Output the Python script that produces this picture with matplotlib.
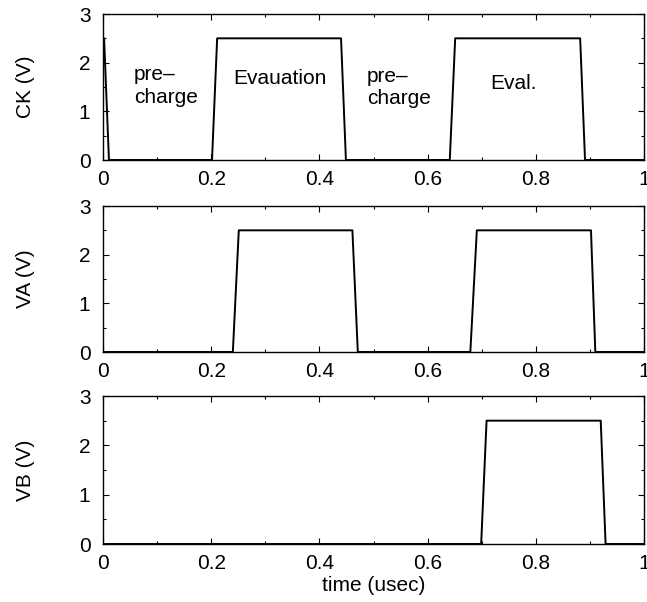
import matplotlib
matplotlib.use("Agg")
import matplotlib.pyplot as plt
from matplotlib.ticker import MultipleLocator

plt.rcParams['font.family'] = ['Liberation Sans', 'DejaVu Sans']

# Waveform breakpoints (time in usec, voltage in V)
ck_t = [0.0, 0.002, 0.011, 0.2015, 0.211, 0.44, 0.449, 0.641, 0.651, 0.882, 0.891, 1.0]
ck_v = [2.5, 2.5, 0.0, 0.0, 2.5, 2.5, 0.0, 0.0, 2.5, 2.5, 0.0, 0.0]

va_t = [0.0, 0.240, 0.251, 0.461, 0.471, 0.679, 0.691, 0.902, 0.910, 1.0]
va_v = [0.0, 0.0, 2.5, 2.5, 0.0, 0.0, 2.5, 2.5, 0.0, 0.0]

vb_t = [0.0, 0.699, 0.709, 0.920, 0.929, 1.0]
vb_v = [0.0, 0.0, 2.5, 2.5, 0.0, 0.0]

ylabels = ["CK (V)", "VA (V)", "VB (V)"]
xticks = [0, 0.2, 0.4, 0.6, 0.8, 1]
xticklabels = ["0", "0.2", "0.4", "0.6", "0.8", "1"]
yticks = [0, 1, 2, 3]

annotations = [
    (0.057, 1.52, "pre\u2013\ncharge"),
    (0.240, 1.68, "Evauation"),
    (0.488, 1.49, "pre\u2013\ncharge"),
    (0.716, 1.58, "Eval."),
]

W, H = 647, 602
fig = plt.figure(figsize=(W / 100, H / 100), dpi=100)

boxes = [(14, 160), (206, 352), (396, 544)]
left, right = 103, 644
series = [(ck_t, ck_v), (va_t, va_v), (vb_t, vb_v)]
FS = 15

for i, ((top, bot), (t, v)) in enumerate(zip(boxes, series)):
    ax = fig.add_axes([left / W, 1 - bot / H, (right - left) / W, (bot - top) / H])
    ax.plot(t, v, color='black', lw=1.4)
    ax.set_xlim(0, 1)
    ax.set_ylim(0, 3)
    ax.set_xticks(xticks)
    ax.set_xticklabels(xticklabels)
    ax.set_yticks(yticks)
    ax.xaxis.set_minor_locator(MultipleLocator(0.1))
    ax.yaxis.set_minor_locator(MultipleLocator(0.5))
    ax.tick_params(which='both', direction='in', top=True, right=True, labelsize=FS, width=0.8)
    ax.tick_params(which='major', length=4)
    ax.tick_params(which='minor', length=2.5)
    ax.tick_params(axis='x', pad=7)
    ax.tick_params(axis='y', pad=9)
    for s in ax.spines.values():
        s.set_linewidth(1.0)
    ax.set_ylabel(ylabels[i], fontsize=FS)
    ax.yaxis.set_label_coords(-0.126, 0.5)
    if i == 0:
        for x, y, s in annotations:
            ax.text(x, y, s, fontsize=FS, ha='left', va='center', linespacing=1.25)
    if i == 2:
        ax.set_xlabel("time (usec)", fontsize=FS)
        ax.xaxis.set_label_coords(0.5, -0.215)

fig.savefig("out.png", dpi=100)
